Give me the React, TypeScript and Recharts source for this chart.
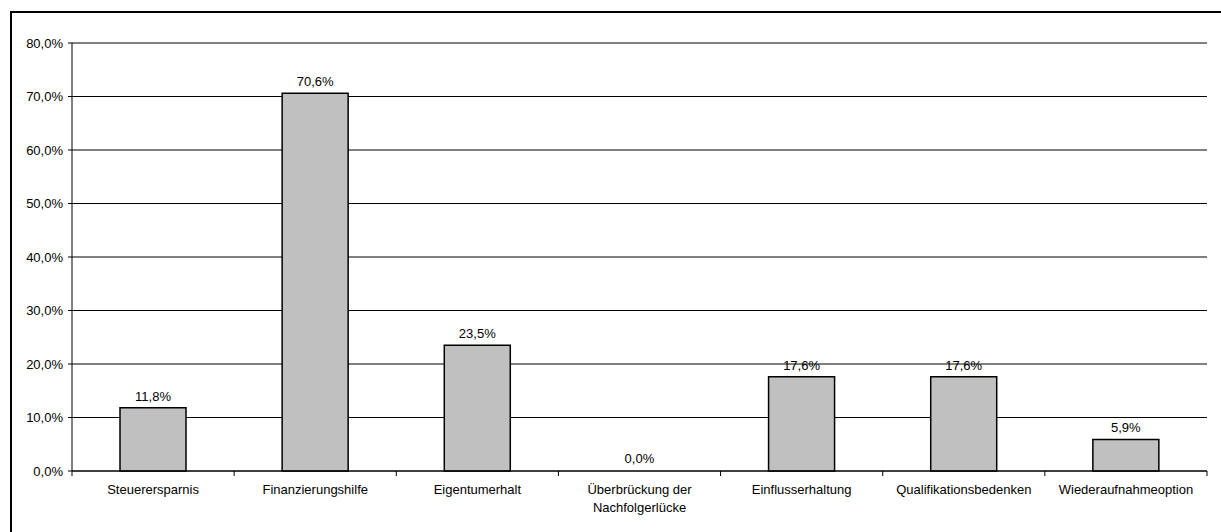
import React from 'react';
import { BarChart, Bar, XAxis, YAxis, CartesianGrid, LabelList } from 'recharts';

const categories = [
  'Steuerersparnis',
  'Finanzierungshilfe',
  'Eigentumerhalt',
  'Überbrückung der\nNachfolgerlücke',
  'Einflusserhaltung',
  'Qualifikationsbedenken',
  'Wiederaufnahmeoption',
];
const values = [11.8, 70.6, 23.5, 0.0, 17.6, 17.6, 5.9];
const yTicks = [0, 10, 20, 30, 40, 50, 60, 70, 80];

const data = categories.map((c, i) => ({ name: c, value: values[i] }));

const FONT = '"Liberation Sans", Arial, sans-serif';
const fmt = (v: number) => v.toFixed(1).replace('.', ',') + '%';

const CatTick = (props: any) => {
  const { x, y, payload, index, visibleTicksCount } = props;
  const half = payload && payload.offset ? payload.offset : 81;
  const lines = String(payload.value).split('\n');
  const last = index === (visibleTicksCount ?? categories.length) - 1;
  return (
    <g transform={`translate(${x},${y})`}>
      <line x1={-half} x2={-half} y1={0} y2={5} stroke="#000" strokeWidth={1} />
      {last && <line x1={half} x2={half} y1={0} y2={5} stroke="#000" strokeWidth={1} />}
      <text textAnchor="middle" fontFamily={FONT} fontSize={13} fill="#000">
        {lines.map((l, i) => (
          <tspan key={i} x={0} dy={i === 0 ? 23 : 18}>
            {l}
          </tspan>
        ))}
      </text>
    </g>
  );
};

export default function App() {
  return (
    <div style={{ position: 'absolute', left: 0, top: 0, width: 1221, height: 532, background: '#fff', overflow: 'hidden' }}>
      <div
        style={{
          position: 'absolute',
          left: 10,
          top: 11,
          width: 1230,
          height: 540,
          borderLeft: '2px solid #000',
          borderTop: '2px solid #000',
          boxSizing: 'border-box',
        }}
      />
      <div style={{ position: 'absolute', left: 0, top: 0 }}>
        <BarChart
          width={1221}
          height={532}
          data={data}
          margin={{ top: 43, right: 14, bottom: 21, left: 12 }}
        >
          <CartesianGrid vertical={false} stroke="#000" strokeOpacity={1} />
          <XAxis
            dataKey="name"
            interval={0}
            tickLine={false}
            tickSize={0}
            tickMargin={0}
            axisLine={{ stroke: '#000' }}
            tick={<CatTick />}
            height={40}
          />
          <XAxis
            xAxisId="top"
            orientation="top"
            dataKey="name"
            tick={false}
            tickLine={false}
            axisLine={{ stroke: '#808080', strokeWidth: 1.5 }}
            height={0}
          />
          <YAxis
            domain={[0, 80]}
            ticks={yTicks}
            tickFormatter={fmt}
            tickSize={4}
            tickMargin={5}
            width={60}
            axisLine={{ stroke: '#000' }}
            tickLine={{ stroke: '#000' }}
            tick={{ fontFamily: FONT, fontSize: 13, fill: '#000' }}
            interval={0}
          />
          <YAxis
            yAxisId="r"
            orientation="right"
            domain={[0, 80]}
            ticks={yTicks}
            tick={false}
            tickLine={false}
            axisLine={{ stroke: '#808080', strokeWidth: 1.5 }}
            width={0}
          />
          <Bar dataKey="value" fill="#C0C0C0" stroke="#000" strokeWidth={1.5} barSize={66} isAnimationActive={false} />
          <Bar
            dataKey="value"
            xAxisId="top"
            yAxisId="r"
            fill="none"
            stroke="none"
            barSize={66}
            minPointSize={1}
            isAnimationActive={false}
          >
            <LabelList
              dataKey="value"
              position="top"
              offset={7}
              formatter={(v: any) => fmt(Number(v))}
              style={{ fontFamily: FONT, fontSize: 13, fill: '#000' }}
            />
          </Bar>
        </BarChart>
      </div>
    </div>
  );
}
